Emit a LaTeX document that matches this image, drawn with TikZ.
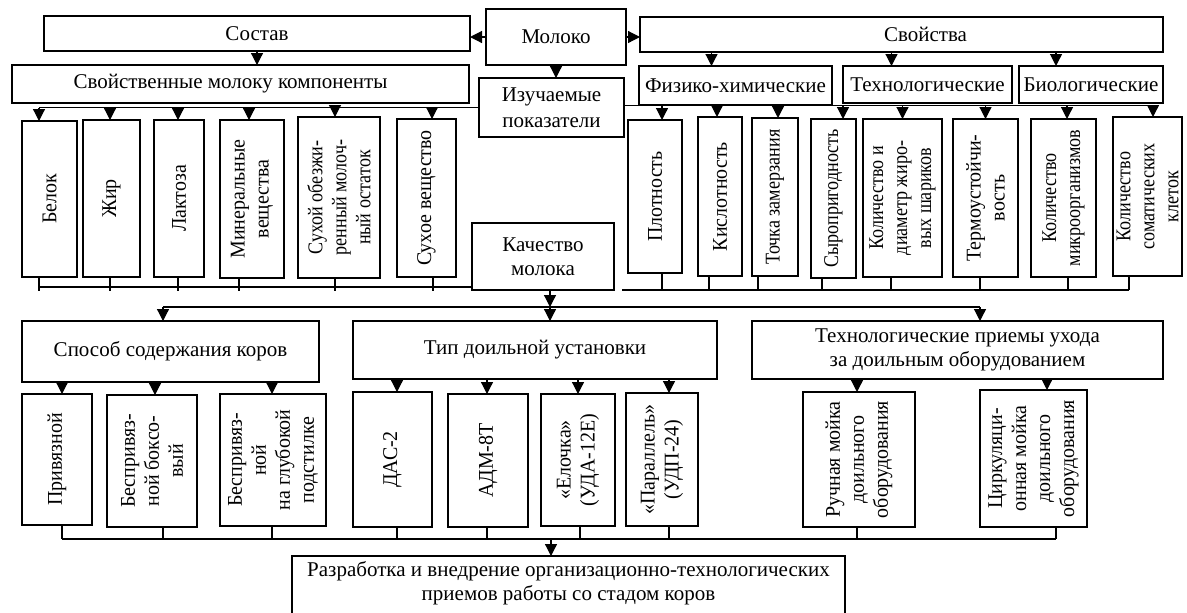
\documentclass[tikz,border=0pt]{standalone}
\usepackage{fontspec}
\setmainfont{Liberation Serif}
\usetikzlibrary{arrows.meta}

\begin{document}
\begin{tikzpicture}[x=0.5pt,y=-0.5pt,line width=0.6pt,
  every node/.style={font=\fontsize{10.5}{12}\selectfont},
  box/.style 2 args={draw,inner sep=0pt,outer sep=0pt,align=center,
    minimum width=#1*0.5pt,minimum height=#2*0.5pt},
  vt/.style={label={[rotate=90,align=center,xscale=0.95]center:{#1}}},
  vtn/.style={label={[rotate=90,align=center,xscale=0.86]center:{#1}}},
  arr/.style={-{Triangle[length=6pt,width=6pt]}}]
\useasboundingbox (0,0) rectangle (1187,612);
\clip (0,0) rectangle (1187,612);

\node[box={426}{35}] (sostav) at (257,33.5) {Состав};
\node[box={140}{56}] (moloko) at (556,37) {Молоко};
\node[box={523}{35},label={[xshift=12pt]center:Свойства}] (svoistva) at (901.5,34.5) {};
\node[box={457}{38},label={[xshift=-5pt]center:Свойственные молоку компоненты}] (komp) at (240.5,84) {};
\node[box={145}{59}] (izuch) at (551.5,107.5) {Изучаемые\\[1pt]показатели};
\node[box={193}{39}] (fiz) at (735.5,85.5) {Физико-химические};
\node[box={169}{37}] (tehn) at (927.5,84.5) {Технологические};
\node[box={144}{37}] (biol) at (1091,84.5) {Биологические};

\node[box={55}{156},vt=Белок] (belok) at (49.5,199) {};
\node[box={57}{157},vt=Жир] (zhir) at (111.5,198.5) {};
\node[box={50}{157},vt=Лактоза] (laktoza) at (179,198.5) {};
\node[box={64}{158},vt={Минеральные\\вещества}] (miner) at (252,199) {};
\node[box={82}{161},vtn={Сухой обезжи-\\ренный молоч-\\ный остаток}] (suhoi) at (339,197.5) {};
\node[box={59}{158},vt={Сухое вещество}] (suhoe) at (426.5,198) {};

\node[box={54}{153},vt=Плотность] (plotn) at (655,196.5) {};
\node[box={44}{159},vt=Кислотность] (kisl) at (720,196.5) {};
\node[box={46}{158},vtn={Точка замерзания}] (tochka) at (775,197) {};
\node[box={45}{159},vtn=Сыропригодность] (syro) at (833.5,198.5) {};
\node[box={79}{158},vtn={Количество и\\диаметр жиро-\\вых шариков}] (diam) at (902.5,198) {};
\node[box={65}{158},vt={Термоустойчи-\\вость}] (termo) at (985.5,198) {};
\node[box={65}{158},vtn={Количество\\микроорганизмов}] (mikro) at (1063.5,198) {};
\node[box={69}{159},vtn={Количество\\соматических\\клеток}] (somat) at (1147.5,196.5) {};

\node[box={142}{67}] (kachestvo) at (543,256.5) {Качество\\молока};

\node[box={297}{61}] (sposob) at (170.5,351.5) {Способ содержания коров};
\node[box={364}{58}] (tip) at (535,350) {Тип доильной установки};
\node[box={411}{58}] (uhod) at (957.5,350) {Технологические приемы ухода\\за доильным оборудованием};

\node[box={70}{131},vt=Привязной] (privyaz) at (57,459.5) {};
\node[box={90}{132},vt={Беспривяз-\\ной боксо-\\вый}] (besbox) at (152,461) {};
\node[box={106}{132},vt={Беспривяз-\\ной\\на глубокой\\подстилке}] (besglub) at (273,460) {};
\node[box={79}{135},vt=ДАС-2] (das) at (392.5,459.5) {};
\node[box={80}{133},vt=АДМ-8Т] (adm) at (488,460.5) {};
\node[box={74}{132},vt={«Елочка»\\(УДА-12Е)}] (elochka) at (578,460) {};
\node[box={72}{133},vt={«Параллель»\\(УДП-24)}] (parallel) at (662,459.5) {};
\node[box={112}{135},vt={Ручная мойка\\доильного\\оборудования}] (ruchn) at (859,459.5) {};
\node[box={107}{137},vt={Циркуляци-\\онная мойка\\доильного\\оборудования}] (cirk) at (1033.5,458.5) {};

\node[box={553}{88},label={[yshift=8.5pt,align=center]center:{Разработка и внедрение организационно-технологических\\приемов работы со стадом коров}}] (razrab) at (568.5,600) {};

\coordinate (mb) at (0,307);
\coordinate (bb) at (0,539);

\draw[arr] (moloko.west) -- (moloko.west -| sostav.east);
\draw[arr] (moloko.east) -- (moloko.east -| svoistva.west);
\draw[arr] (sostav.south) -- (sostav.south |- komp.north);
\draw[arr] (moloko.south) -- (moloko.south |- izuch.north);
\foreach \n/\dx in {fiz/-12pt,tehn/-18pt,biol/-17.5pt}
  \draw[arr] ([xshift=\dx]\n.north |- svoistva.south) -- ([xshift=\dx]\n.north);

\draw ([xshift=-5.25pt]belok.north |- izuch.west) -- (izuch.west);
\foreach \n/\dx in {belok/-5.25pt,zhir/-0.75pt,laktoza/-0.5pt,miner/-1.5pt,suhoi/-2pt,suhoe/2.75pt}
  \draw[arr] ([xshift=\dx]\n.north |- izuch.west) -- ([xshift=\dx]\n.north);
\draw ([yshift=1pt]izuch.east) -- ([xshift=2.75pt,yshift=1pt]somat.north |- izuch.east);
\foreach \n/\dx in {plotn/3.5pt,kisl/-1.5pt,tochka/1.5pt,syro/4.75pt,diam/0pt,termo/0pt,mikro/1.75pt,somat/2.75pt}
  \draw[arr] ([xshift=\dx,yshift=1pt]\n.north |- izuch.east) -- ([xshift=\dx]\n.north);

\draw ([xshift=-5.25pt,yshift=1.5pt]belok.south |- kachestvo.south west) -- ([yshift=1.5pt]kachestvo.south west);
\foreach \n/\dx in {belok/-5.25pt,zhir/-0.75pt,laktoza/-0.5pt,miner/-6.5pt,suhoi/-2pt,suhoe/3.25pt}
  \draw ([xshift=\dx]\n.south) -- ([xshift=\dx,yshift=-0.5pt]\n.south |- kachestvo.south west);
\draw ([xshift=4pt]kachestvo.south east) -- ([xshift=-9.25pt]somat.south |- kachestvo.south east);
\foreach \n/\dx in {plotn/3.5pt,kisl/-5.5pt,tochka/-8.5pt,syro/-5.75pt,diam/-5.75pt,termo/-2.75pt,mikro/2.25pt,somat/-9.25pt}
  \draw ([xshift=\dx]\n.south) -- ([xshift=\dx]\n.south |- kachestvo.south east);

\draw[arr] ([xshift=3.5pt]kachestvo.south) -- ([xshift=3.5pt]kachestvo.south |- mb);
\draw ([xshift=-3.75pt]sposob.north |- mb) -- ([xshift=11.25pt]uhod.north |- mb);
\foreach \n/\dx in {sposob/-3.75pt,tip/7.5pt,uhod/11.25pt}
  \draw[arr] ([xshift=\dx]\n.north |- mb) -- ([xshift=\dx]\n.north);

\foreach \p/\n/\dx in {sposob/privyaz/2.5pt,sposob/besbox/1.5pt,sposob/besglub/-0.5pt,
    tip/das/2.25pt,tip/adm/-0.5pt,tip/elochka/0pt,tip/parallel/3.5pt,uhod/ruchn/-1pt,uhod/cirk/6.75pt}
  \draw[arr] ([xshift=\dx]\n.north |- \p.south) -- ([xshift=\dx]\n.north);

\draw ([xshift=2.5pt]privyaz.south |- bb) -- ([xshift=11.25pt]cirk.south |- bb);
\foreach \n/\dx in {privyaz/2.5pt,besbox/5.5pt,besglub/-0.5pt,das/2.25pt,adm/-0.5pt,elochka/1pt,parallel/3.5pt,ruchn/-1pt,cirk/11.25pt}
  \draw ([xshift=\dx]\n.south) -- ([xshift=\dx]\n.south |- bb);
\draw[arr] ([xshift=-8.75pt]razrab.north |- bb) -- ([xshift=-8.75pt]razrab.north);
\end{tikzpicture}
\end{document}
